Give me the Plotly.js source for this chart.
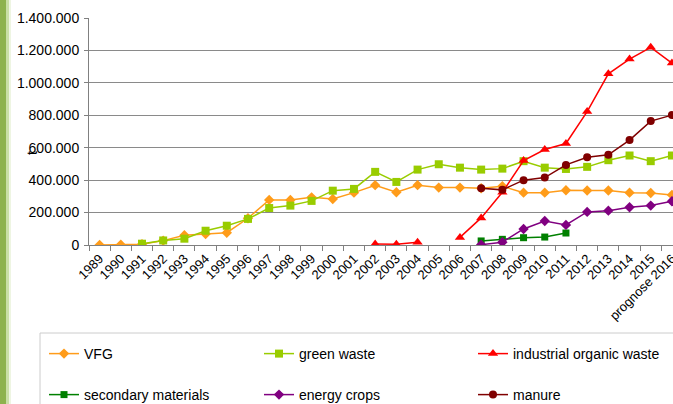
<!DOCTYPE html>
<html>
<head>
<meta charset="utf-8">
<script src="https://cdn.plot.ly/plotly-3.0.1.min.js"></script>
<style>
html,body{margin:0;padding:0;overflow:hidden;background:#fff;}
#chart{width:673px;height:404px;}
</style>
</head>
<body>
<div id="chart"></div>
<script>
const categories = ['1989','1990','1991','1992','1993','1994','1995','1996','1997','1998','1999','2000','2001','2002','2003','2004','2005','2006','2007','2008','2009','2010','2011','2012','2013','2014','2015','prognose 2016'];

const vfg = [0, 2000, 5000, 27000, 60000, 68000, 76000, 165000, 278000, 278000, 294000, 284000, 323000, 369000, 325000, 369000, 354000, 354000, 350000, 362000, 323000, 323000, 338000, 336000, 336000, 323000, 321000, 309000];
const greenWaste = [null, null, 8000, 28000, 39000, 88000, 119000, 161000, 228000, 243000, 272000, 335000, 346000, 451000, 389000, 465000, 498000, 477000, 465000, 471000, 517000, 477000, 469000, 482000, 523000, 552000, 517000, 552000];
const industrialOrganicWaste = [null, null, null, null, null, null, null, null, null, null, null, null, null, 6000, 5000, 17000, null, 47000, 167000, 325000, 521000, 589000, 626000, 823000, 1056000, 1147000, 1219000, 1122000];
const secondaryMaterials = [null, null, null, null, null, null, null, null, null, null, null, null, null, null, null, null, null, null, 25000, 35000, 45000, 49000, 74000, null, null, null, null, null];
const energyCrops = [null, null, null, null, null, null, null, null, null, null, null, null, null, null, null, null, null, null, 2000, 17000, 99000, 148000, 124000, 204000, 212000, 233000, 243000, 270000];
const manure = [null, null, null, null, null, null, null, null, null, null, null, null, null, null, null, null, null, null, 350000, 340000, 400000, 416000, 494000, 541000, 556000, 647000, 764000, 801000];

const seriesNames = ['VFG', 'green waste', 'industrial organic waste', 'secondary materials', 'energy crops', 'manure'];
const yTitle = 't';

// layout geometry (pixels)
const W = 673, H = 404;
const M = {l: 89, r: 0, t: 18, b: 159};
const PW = W - M.l - M.r, PH = H - M.t - M.b;
const px = x => (x - M.l) / PW;
const py = y => (H - M.b - y) / PH;

function tr(y, name, color, symbol, size, legend) {
  return {
    x: categories, y: y, name: name, type: 'scatter', mode: 'lines+markers',
    connectgaps: false, legend: legend,
    line: {color: color, width: 1.5},
    marker: {color: color, symbol: symbol, size: size}
  };
}

// one legend per entry, laid out as a 3 x 2 grid
const data = [
  tr(vfg, seriesNames[0], '#ff9c1a', 'diamond', 8, 'legend'),
  tr(greenWaste, seriesNames[1], '#99cc00', 'square', 8, 'legend2'),
  tr(industrialOrganicWaste, seriesNames[2], '#ff0000', 'triangle-up', 9, 'legend3'),
  tr(secondaryMaterials, seriesNames[3], '#008000', 'square', 7, 'legend4'),
  tr(energyCrops, seriesNames[4], '#800080', 'diamond', 8, 'legend5'),
  tr(manure, seriesNames[5], '#800000', 'circle', 8, 'legend6')
];

const font = {family: '"Liberation Sans", Arial, sans-serif', size: 14, color: '#000'};

function legendAt(textX, rowY) {
  return {
    orientation: 'h', xanchor: 'left', yanchor: 'middle',
    xref: 'container', yref: 'container',
    x: (textX - 40) / W, y: 1 - rowY / H,
    font: {family: font.family, size: 14, color: '#000'},
    bgcolor: 'rgba(0,0,0,0)', borderwidth: 0, itemwidth: 30
  };
}

const layout = {
  width: W, height: H,
  margin: M,
  paper_bgcolor: '#fff', plot_bgcolor: '#fff',
  separators: ',.',
  font: font,
  showlegend: true,
  xaxis: {
    type: 'category',
    range: [-0.5, 27.05],
    tickson: 'boundaries',
    ticks: 'outside', ticklen: 5, tickcolor: '#808080',
    showgrid: false, showline: true, linecolor: '#808080', linewidth: 1,
    tickangle: -45,
    tickfont: {family: font.family, size: 13, color: '#000'},
    zeroline: false, automargin: false
  },
  yaxis: {
    range: [0, 1400000], dtick: 200000, tick0: 0,
    tickformat: ',d',
    showgrid: true, gridcolor: '#8a8a8a', gridwidth: 1,
    showline: true, linecolor: '#808080', linewidth: 1,
    ticks: 'outside', ticklen: 4, tickcolor: '#808080',
    ticklabelstandoff: 2,
    tickfont: {family: font.family, size: 14, color: '#000'},
    zeroline: false, automargin: false
  },
  legend: legendAt(84, 354),
  legend2: legendAt(299, 354),
  legend3: legendAt(513, 354),
  legend4: legendAt(84, 395),
  legend5: legendAt(299, 395),
  legend6: legendAt(513, 395),
  annotations: [{
    text: yTitle, xref: 'paper', yref: 'paper', x: px(32), y: py(153),
    xanchor: 'center', yanchor: 'middle',
    showarrow: false, textangle: -90, font: {family: font.family, size: 14, color: '#000'}
  }],
  shapes: [
    {type: 'rect', xref: 'paper', yref: 'paper', x0: px(40), x1: px(690), y0: py(333), y1: py(420),
     line: {color: '#cccccc', width: 1}, fillcolor: 'rgba(0,0,0,0)', layer: 'below'},
    {type: 'rect', xref: 'paper', yref: 'paper', x0: px(0), x1: px(6), y0: py(0), y1: py(404),
     line: {width: 0}, fillcolor: '#8db24e', layer: 'below'},
    {type: 'rect', xref: 'paper', yref: 'paper', x0: px(6), x1: px(9), y0: py(0), y1: py(404),
     line: {width: 0}, fillcolor: '#c9dfa6', layer: 'below'},
    {type: 'rect', xref: 'paper', yref: 'paper', x0: px(9), x1: px(11), y0: py(0), y1: py(404),
     line: {width: 0}, fillcolor: '#eef5e2', layer: 'below'}
  ]
};

Plotly.newPlot('chart', data, layout, {displayModeBar: false, staticPlot: true});
</script>
</body>
</html>
